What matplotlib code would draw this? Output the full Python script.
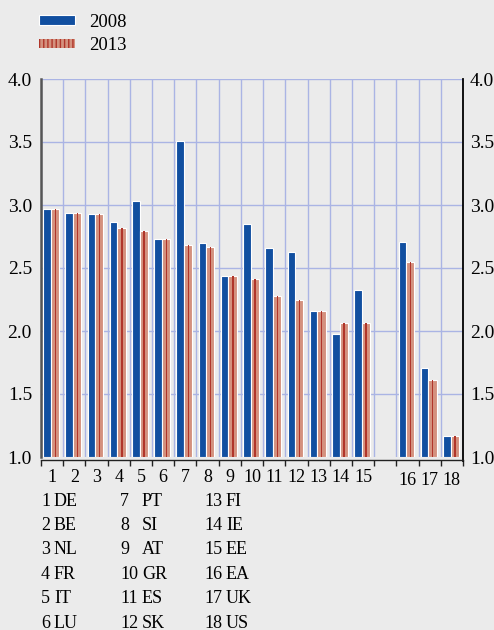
import matplotlib
matplotlib.use("Agg")
import matplotlib.pyplot as plt
from matplotlib.patches import Patch
import numpy as np

plt.rcParams['font.family'] = ['Liberation Serif', 'DejaVu Serif']

labels = ["1", "2", "3", "4", "5", "6", "7", "8", "9", "10", "11", "12", "13", "14", "15", "16", "17", "18"]
slots = [0, 1, 2, 3, 4, 5, 6, 7, 8, 9, 10, 11, 12, 13, 14, 16, 17, 18]
v2008 = [2.97, 2.94, 2.925, 2.865, 3.03, 2.73, 3.505, 2.70, 2.44, 2.85, 2.655, 2.63, 2.16, 1.975, 2.325, 2.71, 1.71, 1.17]
v2013 = [2.97, 2.94, 2.93, 2.82, 2.79, 2.73, 2.68, 2.665, 2.44, 2.41, 2.28, 2.25, 2.16, 2.065, 2.065, 2.55, 1.615, 1.17]
key_nums = ["1", "2", "3", "4", "5", "6", "7", "8", "9", "10", "11", "12", "13", "14", "15", "16", "17", "18"]
key_codes = ["DE", "BE", "NL", "FR", "IT", "LU", "PT", "SI", "AT", "GR", "ES", "SK", "FI", "IE", "EE", "EA", "UK", "US"]
yticks = [1.0, 1.5, 2.0, 2.5, 3.0, 3.5, 4.0]

BLUE = "#114fa0"
SALMON = "#d4917e"
DARKRED = "#b0352a"
BG = "#ebebeb"
GRID = "#aab4e4"

fig = plt.figure(figsize=(4.94, 6.30), dpi=100, facecolor=BG)
ax = fig.add_axes([41/494, 1-457/630, (463-41)/494, (457-79)/630], facecolor=BG)

nslots = 19
ax.set_xlim(0, nslots)
ax.set_ylim(1.0, 4.0)

# grid
for b in range(nslots + 1):
    ax.axvline(b, color=GRID, lw=1.0, zorder=0)
for y in yticks[1:]:
    ax.axhline(y, color=GRID, lw=1.0, zorder=0)

s = np.array(slots, dtype=float)
ax.bar(s + 0.27, np.array(v2008) - 1.0, bottom=1.0, width=0.34, color=BLUE,
       edgecolor="white", linewidth=0.8, zorder=2)
ax.bar(s + 0.625, np.array(v2013) - 1.0, bottom=1.0, width=0.37, color=SALMON,
       edgecolor="white", linewidth=0.8, zorder=2)
ax.bar(s + 0.64, np.array(v2013) - 1.0, bottom=1.0, width=0.06, color=DARKRED,
       linewidth=0, zorder=3)

# spines
ax.spines["top"].set_visible(False)
ax.spines["left"].set_color("#555555")
ax.spines["left"].set_linewidth(1.8)
ax.spines["right"].set_color("black")
ax.spines["right"].set_linewidth(1.3)
ax.spines["right"].set_bounds(0.97, 4.0)
ax.spines["bottom"].set_color("#222222")
ax.spines["bottom"].set_linewidth(1.0)
ax.spines["bottom"].set_position(("outward", 2))

ax.set_xticks(range(nslots + 1))
ax.set_xticklabels([])
ax.tick_params(axis="x", direction="out", length=4, width=1.0, color="#222222")
ax.set_yticks(yticks)
ax.set_yticklabels([f"{y:.1f}" for y in yticks])
ax.tick_params(axis="y", length=0, labelsize=14, pad=6.5, left=True, right=False,
               labelleft=True, labelright=False)

# right-side labels via twin axis
ax2 = ax.twinx()
ax2.set_ylim(1.0, 4.0)
ax2.set_yticks(yticks)
ax2.set_yticklabels([f"{y:.1f}" for y in yticks])
ax2.tick_params(axis="y", length=0, labelsize=14, pad=5)
for sp in ax2.spines.values():
    sp.set_visible(False)

# x labels
for lab, sl in zip(labels, slots):
    yoff = -0.16 if sl < 15 else -0.19
    ax.text(sl + 0.5, 1.0 + yoff, lab, ha="center", va="center", fontsize=13,
            transform=ax.transData)

# legend
h2008 = Patch(facecolor=BLUE, edgecolor="white", linewidth=0.8)
h2013 = Patch(facecolor=SALMON, edgecolor=DARKRED, hatch="||||", linewidth=0)
leg = fig.legend([h2008, h2013], ["2008", "2013"],
                 loc="upper left", bbox_to_anchor=(39/494, 1-14/630),
                 borderaxespad=0, borderpad=0,
                 frameon=False, fontsize=13.5, handlelength=1.9, handleheight=0.42,
                 handletextpad=0.8, labelspacing=0.33)

# key table
col_num_x = [41, 120, 204]
col_code_x = [54, 142, 226]
row_y0 = 501
row_dy = 24.4
for i, (n, c) in enumerate(zip(key_nums, key_codes)):
    col, row = divmod(i, 6)
    y = 1 - (row_y0 + row * row_dy) / 630
    fig.text(col_num_x[col] / 494, y, n, ha="left", va="center", fontsize=13)
    fig.text(col_code_x[col] / 494, y, c, ha="left", va="center", fontsize=13)

fig.savefig("out.png", dpi=100, facecolor=BG)
